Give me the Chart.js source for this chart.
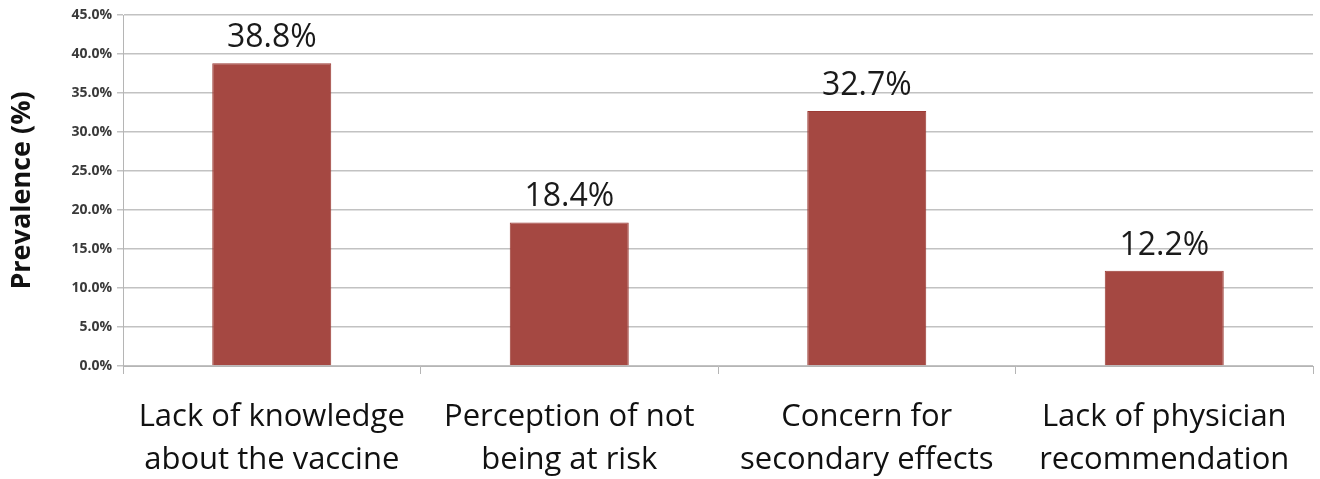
<!DOCTYPE html>
<html>
<head>
<meta charset="utf-8">
<script src="https://cdn.jsdelivr.net/npm/chart.js@4/dist/chart.umd.min.js"></script>
<style>
  html, body { margin: 0; padding: 0; background: #fff; }
  #wrap { width: 1320px; height: 479px; position: relative; }
</style>
</head>
<body>
<div id="wrap"><canvas id="chart"></canvas></div>
<script>
const categories = [
  ['Lack of knowledge', 'about the vaccine'],
  ['Perception of not', 'being at risk'],
  ['Concern for', 'secondary effects'],
  ['Lack of physician', 'recommendation']
];
const prevalence = [38.8, 18.4, 32.7, 12.2];
const yTicks = [0, 5, 10, 15, 20, 25, 30, 35, 40, 45];

const barLabels = {
  id: 'barLabels',
  afterDatasetsDraw(chart) {
    const ctx = chart.ctx;
    const meta = chart.getDatasetMeta(0);
    ctx.save();
    ctx.font = '32px "Open Sans", sans-serif';
    ctx.fillStyle = '#1a1a1a';
    ctx.textAlign = 'center';
    ctx.textBaseline = 'alphabetic';
    meta.data.forEach((bar, i) => {
      ctx.fillText(prevalence[i].toFixed(1) + '%', bar.x, bar.y - 16);
    });
    ctx.restore();
  }
};

new Chart(document.getElementById('chart'), {
  type: 'bar',
  data: {
    labels: categories,
    datasets: [{
      data: prevalence,
      backgroundColor: '#a54842',
      borderColor: '#9c3b35',
      borderWidth: 1,
      barPercentage: 0.4,
      categoryPercentage: 1
    }]
  },
  options: {
    responsive: true,
    maintainAspectRatio: false,
    animation: false,
    layout: { padding: { top: 15, right: 7, left: 0, bottom: 0 } },
    plugins: { legend: { display: false }, tooltip: { enabled: false } },
    scales: {
      x: {
        offset: true,
        grid: {
          offset: true,
          drawOnChartArea: false,
          drawTicks: true,
          tickLength: 8,
          color: '#b5b5b5'
        },
        border: { color: '#b5b5b5' },
        ticks: {
          color: '#111',
          font: { family: 'Open Sans', size: 31, lineHeight: 1.39 },
          padding: 22
        },
        afterFit(scale) { scale.height = 113; }
      },
      y: {
        min: 0,
        max: 45,
        afterBuildTicks(scale) { scale.ticks = yTicks.map(v => ({ value: v })); },
        grid: { color: '#c2c2c2', tickLength: 6, lineWidth: 1.5 },
        border: { color: '#b5b5b5' },
        ticks: {
          color: '#3a3a3a',
          font: { family: 'Open Sans', size: 14, weight: 'bold' },
          padding: 5,
          callback: v => v.toFixed(1) + '%'
        },
        title: {
          display: true,
          text: 'Prevalence (%)',
          color: '#111',
          font: { family: 'Open Sans', size: 27, weight: 'bold' },
          padding: { top: 6, bottom: 8 }
        },
        afterFit(scale) { scale.width = 123; }
      }
    }
  },
  plugins: [barLabels]
});
</script>
</body>
</html>
